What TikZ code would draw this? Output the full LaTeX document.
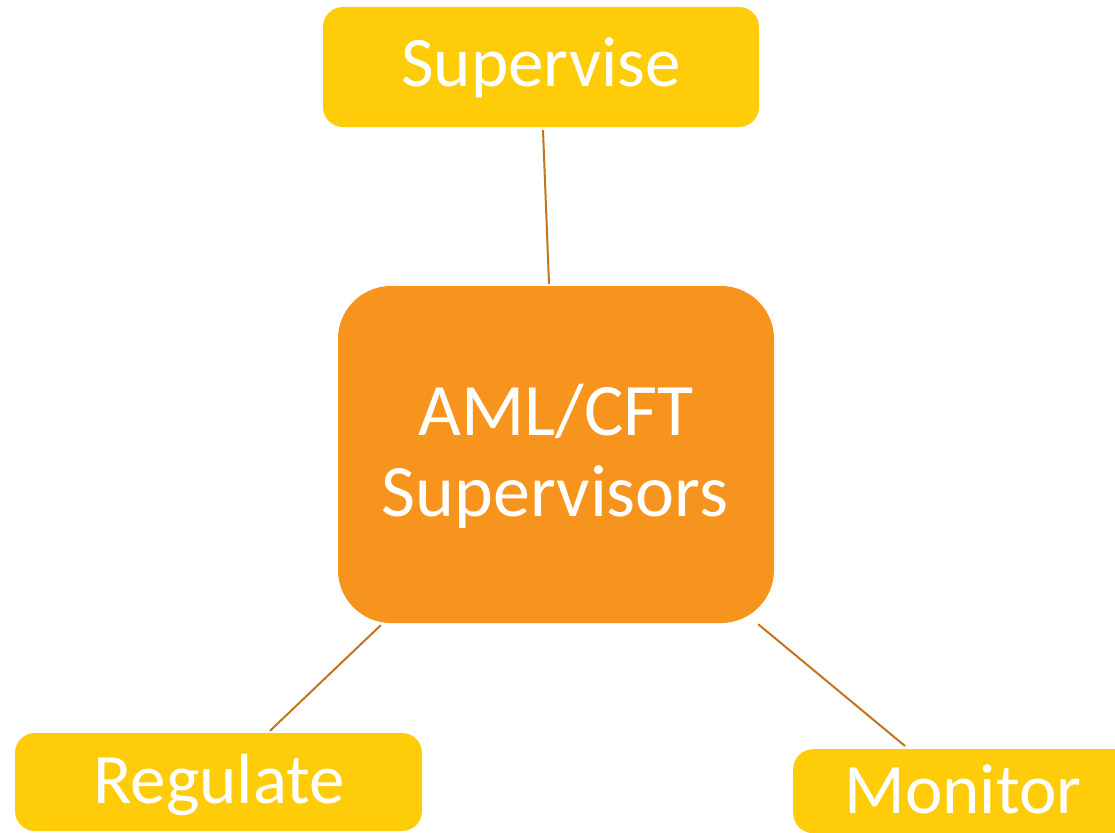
\documentclass[tikz,border=0pt]{standalone}
\usepackage{fontspec}
\setmainfont{Carlito}
\usetikzlibrary{calc}
\definecolor{boxyellow}{HTML}{FFCC0A}
\definecolor{boxorange}{HTML}{F7941E}
\definecolor{linebrown}{HTML}{C4741F}
\tikzset{
  ybox/.style={fill=boxyellow, draw=none, rounded corners=20pt, inner sep=0pt},
  obox/.style={fill=boxorange, draw=none, rounded corners=53pt, inner sep=0pt},
  lbl/.style={text=white, anchor=base, inner sep=0pt, font=\fontsize{71}{71}\selectfont},
  biglbl/.style={text=white, anchor=base, inner sep=0pt, font=\fontsize{74}{74}\selectfont},
  conn/.style={draw=linebrown, line width=2pt}
}
\begin{document}
\begin{tikzpicture}[x=1pt,y=-1pt]
\useasboundingbox (0,0) rectangle (1115,832);
\clip (0,0) rectangle (1115,832);
\fill[white] (0,0) rectangle (1115,832);
% boxes
\node[ybox, minimum width=436pt, minimum height=120pt] (sup) at (541,67) {};
\node[obox, minimum width=436pt, minimum height=337pt] (cen) at (556,454.5) {};
\node[ybox, minimum width=407pt, minimum height=98pt] (reg) at (218.5,782) {};
\node[ybox, minimum width=360pt, minimum height=84pt, anchor=north west] (mon) at (793,749) {};
% texts
\node[lbl] (tsup) at (541,87) {Supervise};
\node[biglbl] (tcen1) at (556,435) {AML/CFT};
\node[biglbl] (tcen2) at (555,516) {Supervisors};
\node[lbl] (treg) at (219,803) {Regulate};
\node[lbl] (tmon) at (963,813) {Monitor};
% connectors
\draw[conn] ($(sup.south)+(2,3)$) -- ($(cen.north)+(-7,-2)$);
\draw[conn] ($(cen.south west)+(43,2)$) -- ($(reg.north)+(51.5,-2)$);
\draw[conn] ($(cen.south east)+(-16,1)$) -- ($(mon.north west)+(112,-3)$);
\end{tikzpicture}
\end{document}
